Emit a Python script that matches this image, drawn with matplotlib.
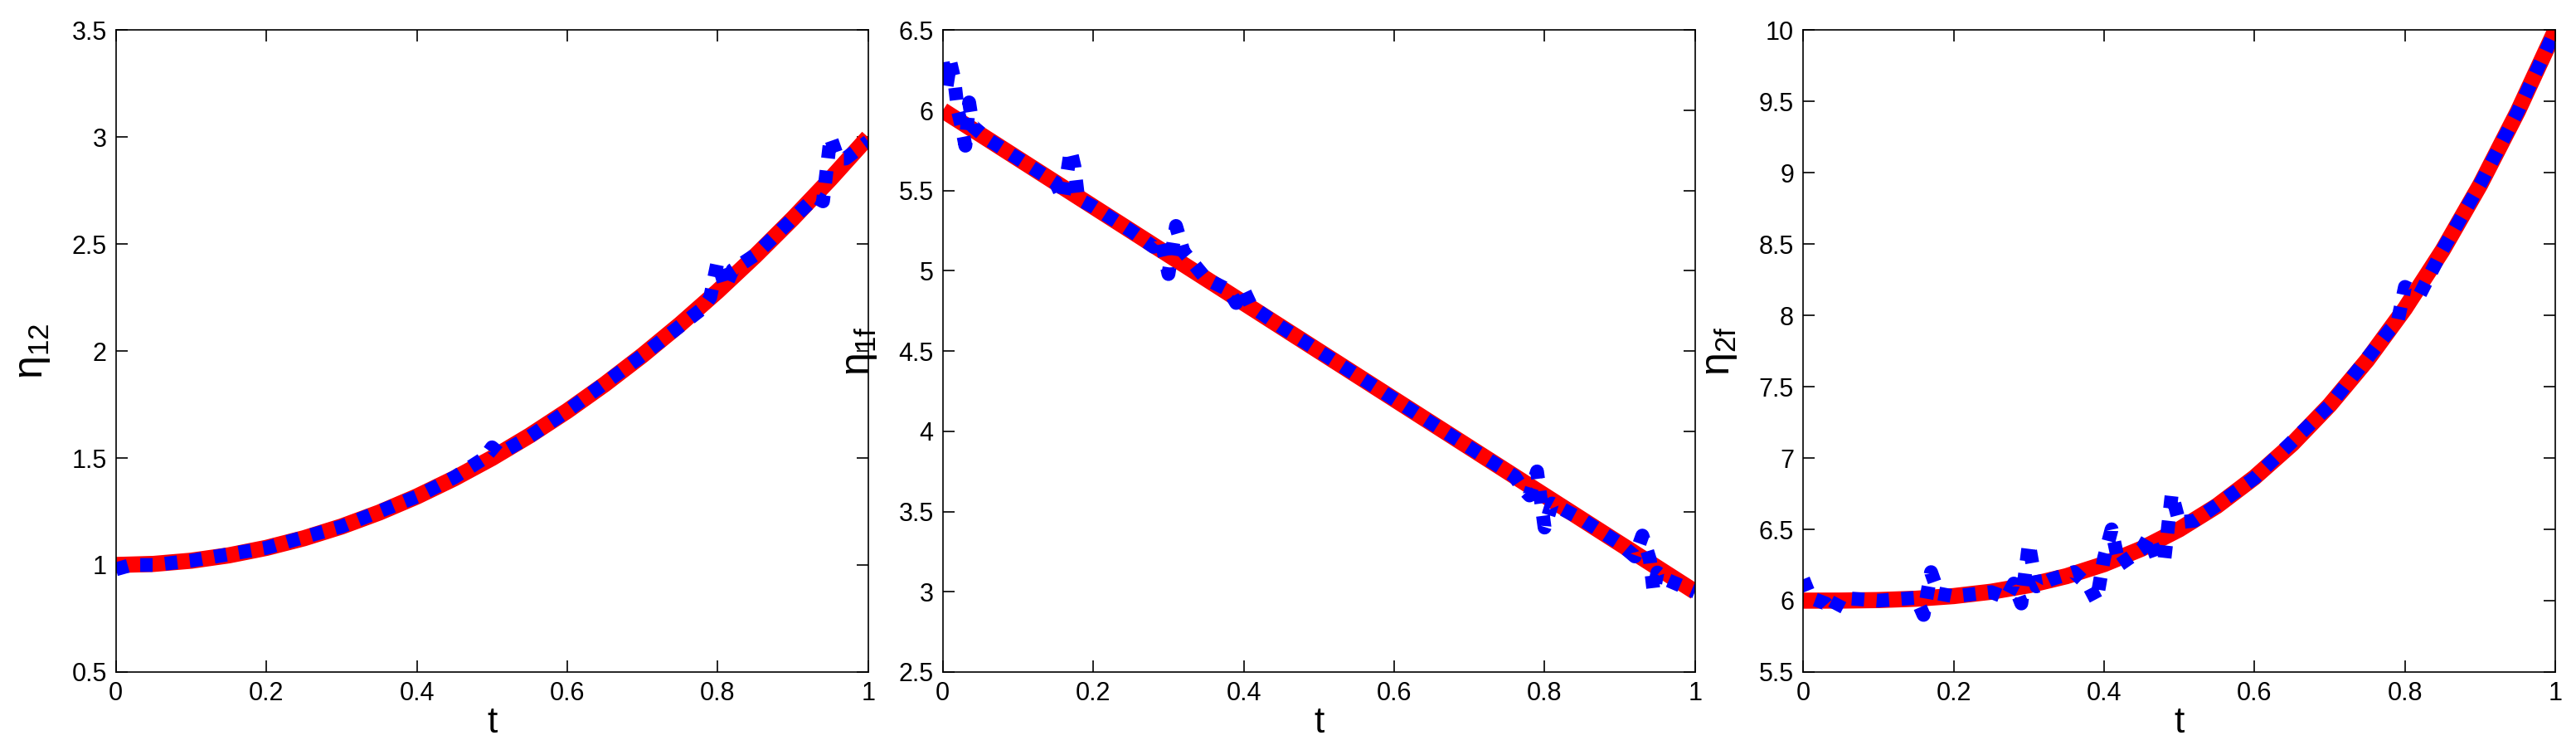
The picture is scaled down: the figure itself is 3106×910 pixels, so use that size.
import matplotlib
matplotlib.use('Agg')
import matplotlib.pyplot as plt
import numpy as np

plt.rcParams['font.family'] = ['Liberation Sans', 'DejaVu Sans']
plt.rcParams['mathtext.default'] = 'regular'

# reference curves (red), read at t = 0, 0.05, ..., 1
t_ref = [0, 0.05, 0.1, 0.15, 0.2, 0.25, 0.3, 0.35, 0.4, 0.45, 0.5,
         0.55, 0.6, 0.65, 0.7, 0.75, 0.8, 0.85, 0.9, 0.95, 1.0]
eta12_ref = [1, 1.005, 1.02, 1.045, 1.08, 1.125, 1.18, 1.245, 1.32, 1.405, 1.5,
             1.605, 1.72, 1.845, 1.98, 2.125, 2.28, 2.445, 2.62, 2.805, 3.0]
eta1f_ref = [6, 5.85, 5.7, 5.55, 5.4, 5.25, 5.1, 4.95, 4.8, 4.65, 4.5,
             4.35, 4.2, 4.05, 3.9, 3.75, 3.6, 3.45, 3.3, 3.15, 3.0]
eta2f_ref = [6, 6.0005, 6.004, 6.0135, 6.032, 6.0625, 6.108, 6.1715, 6.256, 6.3645, 6.5,
             6.664, 6.864, 7.098, 7.372, 7.6875, 8.048, 8.456, 8.916, 9.43, 10.0]

# estimates (blue dashed)
t1 = [0, 0.02, 0.05, 0.1, 0.2, 0.3, 0.4, 0.45, 0.49, 0.5, 0.51, 0.55, 0.6, 0.7,
      0.78, 0.79, 0.8, 0.81, 0.82, 0.85, 0.9, 0.93, 0.94, 0.95, 0.96, 0.97, 1.0]
eta12_est = [0.98, 1.0, 1.0, 1.02, 1.08, 1.18, 1.32, 1.41, 1.5, 1.55, 1.52, 1.6, 1.72, 1.98,
             2.2, 2.25, 2.42, 2.3, 2.38, 2.45, 2.62, 2.72, 2.7, 3.0, 2.9, 2.9, 2.98]

t2 = [0, 0.005, 0.01, 0.015, 0.02, 0.025, 0.03, 0.035, 0.04, 0.06, 0.1, 0.15, 0.16, 0.17,
      0.175, 0.18, 0.2, 0.25, 0.28, 0.29, 0.3, 0.31, 0.32, 0.35, 0.38, 0.39, 0.4, 0.41,
      0.45, 0.5, 0.6, 0.7, 0.76, 0.77, 0.78, 0.79, 0.8, 0.81, 0.85, 0.9, 0.92, 0.93,
      0.94, 0.945, 0.95, 0.96, 1.0]
eta1f_est = [6.3, 6.15, 6.3, 6.2, 6.0, 5.9, 5.78, 6.05, 5.9, 5.82, 5.7, 5.55, 5.45, 5.75,
             5.65, 5.45, 5.4, 5.25, 5.15, 5.2, 4.98, 5.28, 5.12, 4.95, 4.88, 4.8, 4.88, 4.78,
             4.65, 4.5, 4.2, 3.9, 3.72, 3.65, 3.6, 3.75, 3.4, 3.55, 3.45, 3.3, 3.22, 3.35,
             3.2, 3.0, 3.12, 3.08, 3.0]

t3 = [0, 0.01, 0.03, 0.04, 0.05, 0.1, 0.15, 0.16, 0.17, 0.18, 0.2, 0.25, 0.27, 0.28,
      0.29, 0.3, 0.31, 0.33, 0.36, 0.38, 0.39, 0.4, 0.41, 0.42, 0.45, 0.46, 0.47, 0.48,
      0.49, 0.5, 0.52, 0.55, 0.6, 0.7, 0.78, 0.79, 0.8, 0.82, 0.85, 0.9, 0.95, 1.0]
eta2f_est = [6.15, 6.02, 5.98, 5.92, 6.02, 6.0, 6.02, 5.9, 6.2, 6.05, 6.03, 6.06, 6.02, 6.12,
             5.98, 6.4, 6.1, 6.15, 6.2, 6.1, 6.0, 6.3, 6.5, 6.25, 6.36, 6.45, 6.3, 6.28,
             6.75, 6.55, 6.56, 6.67, 6.86, 7.37, 7.9, 7.95, 8.2, 8.15, 8.46, 8.92, 9.43, 10.0]

panels = [
    (t1, eta12_ref, eta12_est, r'$\eta_{12}$', (0.5, 3.5)),
    (t2, eta1f_ref, eta1f_est, r'$\eta_{1f}$', (2.5, 6.5)),
    (t3, eta2f_ref, eta2f_est, r'$\eta_{2f}$', (5.5, 10)),
]
lefts = [0.045, 0.366, 0.70]

fig = plt.figure(figsize=(31.06, 9.1), dpi=100)
for (tb, ref, est, lab, ylim), l in zip(panels, lefts):
    ax = fig.add_axes([l, 0.11, 0.292, 0.85])
    ax.plot(t_ref, ref, color='red', lw=14, solid_capstyle='butt')
    ax.plot(tb, est, color='blue', lw=12, dashes=(0.9, 0.9), dash_capstyle='butt')
    ax.set_xlim(0, 1)
    ax.set_ylim(*ylim)
    ax.set_xticks(np.arange(0, 1.01, 0.2))
    ax.set_xticklabels(['0', '0.2', '0.4', '0.6', '0.8', '1'])
    ax.set_yticks(np.arange(ylim[0], ylim[1] + 0.01, 0.5))
    ax.set_yticklabels(['%g' % v for v in np.arange(ylim[0], ylim[1] + 0.01, 0.5)])
    ax.tick_params(direction='in', length=10, width=1.2, labelsize=22, top=True, right=True, pad=8)
    for s in ax.spines.values():
        s.set_linewidth(1.2)
    ax.set_xlabel('t', fontsize=32, labelpad=0)
    ax.set_ylabel(lab, fontsize=36)
    ax.yaxis.set_label_coords(-0.085, 0.5)

fig.savefig('out.png', dpi=100)
